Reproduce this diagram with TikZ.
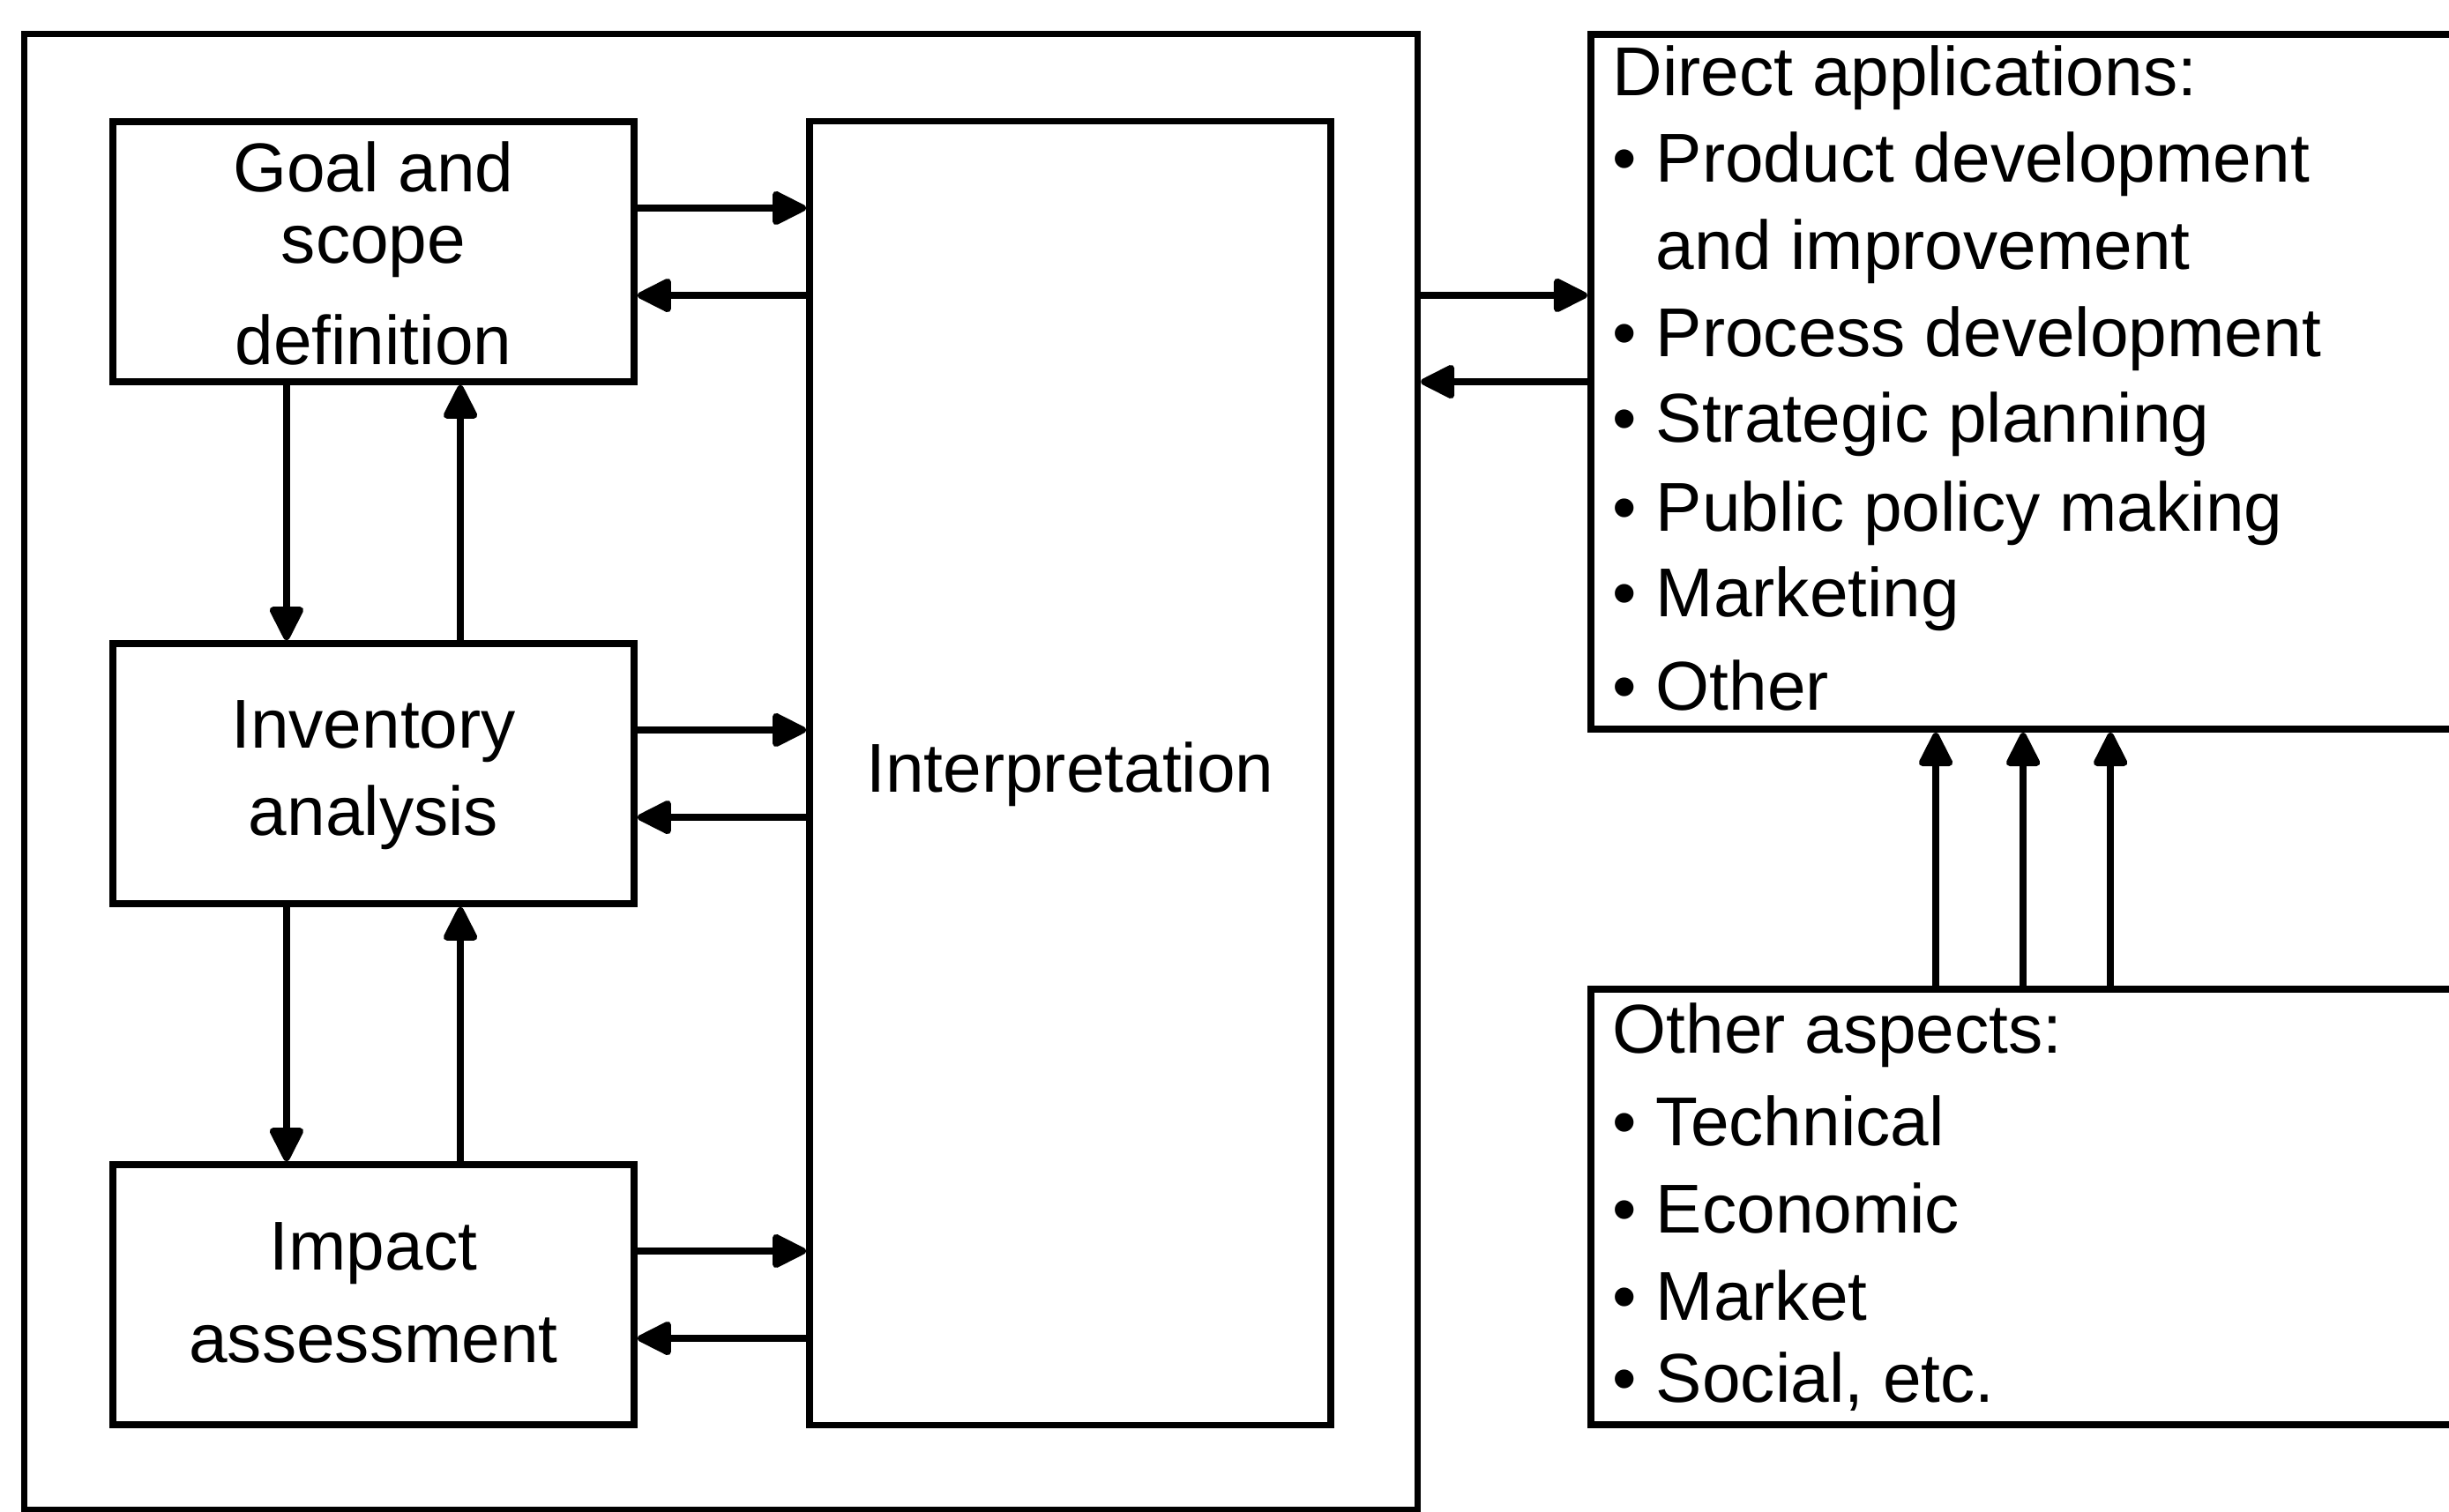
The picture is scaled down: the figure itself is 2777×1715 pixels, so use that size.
\documentclass[tikz,border=0pt]{standalone}
\usepackage{fontspec}
\setmainfont{Liberation Sans}
\usetikzlibrary{arrows.meta}
\begin{document}
\begin{tikzpicture}[x=0.01cm,y=-0.01cm,
  box/.style={draw,line width=2.2pt,rectangle,inner sep=0pt,outer sep=1.1pt},
  arr/.style={line width=2.2pt,-{Triangle[length=4.3mm,width=4.1mm,round]}},
  ctxt/.style={font=\fontsize{22.3pt}{26pt}\selectfont,inner sep=0pt,anchor=base},
  ltxt/.style={font=\fontsize{22.3pt}{26pt}\selectfont,inner sep=0pt,anchor=base west}]
\useasboundingbox (0,0) rectangle (2777,1715);
% boxes
\node[box,minimum width=15.79cm,minimum height=16.73cm] (outer) at (817.5,875.5) {};
\node[box,minimum width=5.91cm,minimum height=2.95cm] (goal) at (423.5,285.5) {};
\node[box,minimum width=5.91cm,minimum height=2.95cm] (inv) at (423.5,877.5) {};
\node[box,minimum width=5.91cm,minimum height=2.95cm] (imp) at (423.5,1468.5) {};
\node[box,minimum width=5.91cm,minimum height=14.78cm] (interp) at (1213.5,877) {};
\node[box,minimum width=11cm,minimum height=7.88cm] (direct) at (2354,433) {};
\node[box,minimum width=11cm,minimum height=4.94cm] (other) at (2354,1369) {};
% texts
\node[ctxt] (g1) at (423.5,217) {Goal and};
\node[ctxt] (g2) at (423.5,298) {scope};
\node[ctxt] (g3) at (423.5,413) {definition};
\node[ctxt] (i1) at (423.5,848) {Inventory};
\node[ctxt] (i2) at (423.5,947) {analysis};
\node[ctxt] (m1) at (423.5,1440) {Impact};
\node[ctxt] (m2) at (423.5,1545) {assessment};
\node[ctxt] (t1) at (1213.5,898) {Interpretation};
\foreach \t/\y [count=\i] in {{Direct applications:}/108,
    {\textbullet\ Product development}/206,
    {\phantom{\textbullet\ }and improvement}/305,
    {\textbullet\ Process development}/404,
    {\textbullet\ Strategic planning}/501,
    {\textbullet\ Public policy making}/602,
    {\textbullet\ Marketing}/699,
    {\textbullet\ Other}/805}
  \node[ltxt,name=d\i] at (1828,\y) {\t};
\foreach \t/\y [count=\i] in {{Other aspects:}/1194,
    {\textbullet\ Technical}/1299,
    {\textbullet\ Economic}/1398,
    {\textbullet\ Market}/1497,
    {\textbullet\ Social, etc.}/1590}
  \node[ltxt,name=o\i] at (1828,\y) {\t};
% horizontal arrows to/from interpretation
\foreach \b in {goal,inv,imp}{
  \coordinate (\b-r) at ([yshift=4.95mm]\b.east);
  \coordinate (\b-l) at ([yshift=-4.95mm]\b.east);
  \draw[arr] (\b-r) -- (\b-r -| interp.west);
  \draw[arr] (\b-l -| interp.west) -- (\b-l);
}
% vertical arrows
\coordinate (gd) at ([xshift=-9.85mm]goal.south);
\coordinate (gu) at ([xshift=9.85mm]goal.south);
\draw[arr] (gd) -- (gd |- inv.north);
\draw[arr] (gu |- inv.north) -- (gu);
\coordinate (id) at ([xshift=-9.85mm]inv.south);
\coordinate (iu) at ([xshift=9.85mm]inv.south);
\draw[arr] (id) -- (id |- imp.north);
\draw[arr] (iu |- imp.north) -- (iu);
% outer <-> direct applications
\coordinate (dr) at ([yshift=9.8mm]direct.west);
\draw[arr] (dr -| outer.east) -- (dr);
\draw[arr] (direct.west) -- (direct.west -| outer.east);
% other aspects -> direct applications
\foreach \dx [count=\i] in {3.95,4.94,5.93}{
  \coordinate (oa\i) at ([xshift=\dx cm]other.north west);
  \draw[arr] (oa\i) -- (oa\i |- direct.south);
}
\end{tikzpicture}
\end{document}
